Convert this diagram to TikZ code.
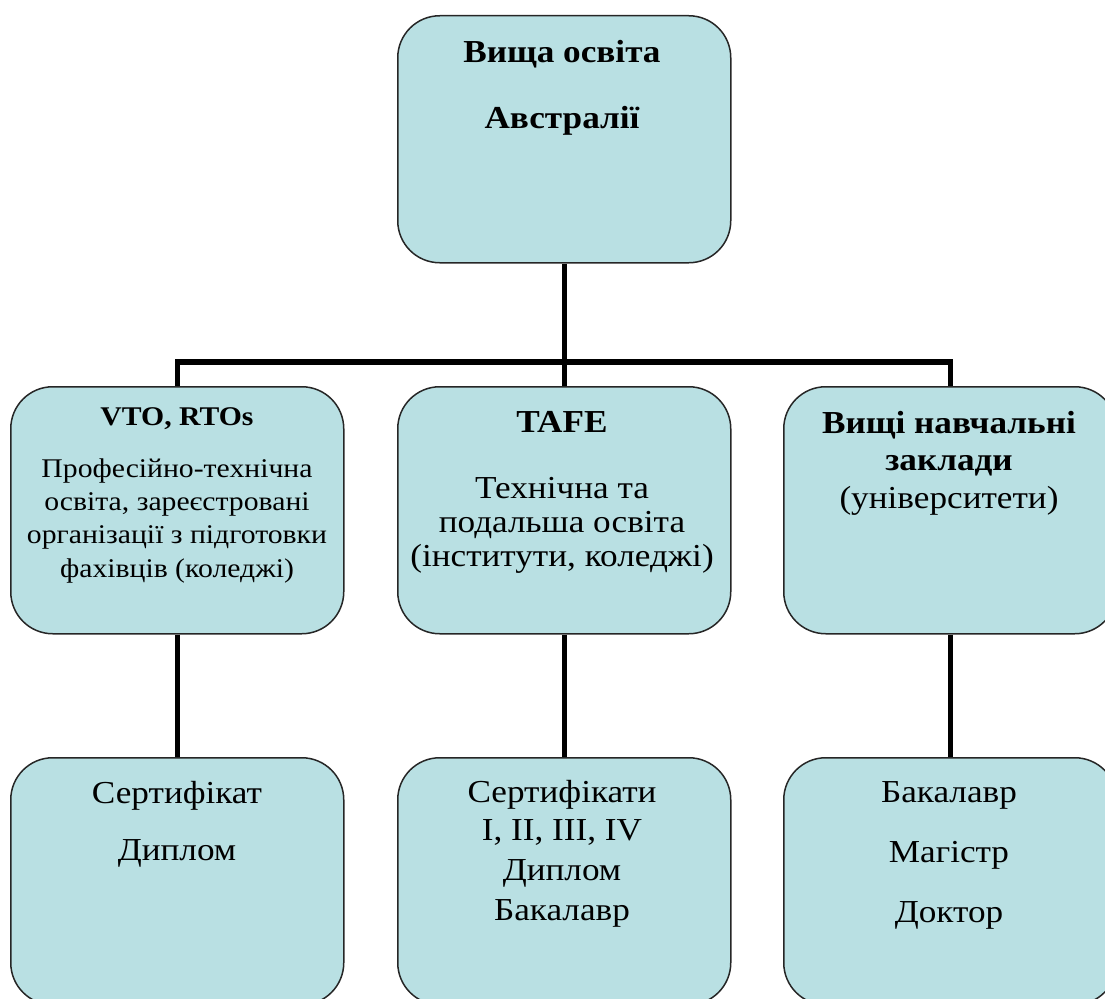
\documentclass[tikz,border=0pt]{standalone}
\usepackage{fontspec}
\setmainfont[FakeStretch=1.1]{Liberation Serif}
\begin{document}
\begin{tikzpicture}[x=1pt,y=-1pt,
  box/.style={draw=black!85,line width=1.5pt,fill=boxfill,rounded corners=42pt,
    minimum width=333pt,minimum height=247pt,inner sep=0pt,anchor=north west},
  conn/.style={line width=5.5pt,black},
  txt/.style={anchor=base,inner sep=0pt},
  big/.style={font=\fontsize{32}{36}\selectfont},
  bigb/.style={font=\fontsize{32}{36}\selectfont\bfseries},
  mid/.style={font=\fontsize{27}{32}\selectfont},
  midb/.style={font=\fontsize{27}{32}\selectfont\bfseries}]
\definecolor{boxfill}{RGB}{185,224,227}
\useasboundingbox (0,0) rectangle (1105,998);

% boxes
\node[box] (top) at (397,15) {};
\node[box] (m1) at (10,386) {};
\node[box] (m2) at (397,386) {};
\node[box] (m3) at (783,386) {};
\node[box] (b1) at (10,757) {};
\node[box] (b2) at (397,757) {};
\node[box] (b3) at (783,757) {};

% connectors
\coordinate (hub) at (562,362);
\draw[conn] (top.south) -- (m2.north);
\draw[conn] (m1.north) -- (m1.north |- hub) -- (m3.north |- hub) -- (m3.north);
\draw[conn] (m1.south) -- (b1.north);
\draw[conn] (m2.south) -- (b2.north);
\draw[conn] (m3.south) -- (b3.north);

% top box
\node[txt,bigb] (t1) at (562,63) {Вища освіта};
\node[txt,bigb] (t2) at (562,128) {Австралії};

% middle left
\node[txt,midb] (l1) at (177,425) {VTO, RTOs};
\node[txt,mid] (l2) at (177,477) {Професійно-технічна};
\node[txt,mid] (l3) at (177,510) {освіта, зареєстровані};
\node[txt,mid] (l4) at (177,543) {організації з підготовки};
\node[txt,mid] (l5) at (177,577) {фахівців (коледжі)};

% middle centre
\node[txt,bigb] (c1) at (562,432) {TAFE};
\node[txt,big] (c2) at (562,498) {Технічна та};
\node[txt,big] (c3) at (562,532) {подальша освіта};
\node[txt,big] (c4) at (562,566) {(інститути, коледжі)};

% middle right
\node[txt,bigb] (r1) at (949,433) {Вищі навчальні};
\node[txt,bigb] (r2) at (949,470) {заклади};
\node[txt,big] (r3) at (949,508) {(університети)};

% bottom left
\node[txt,big] (d1) at (177,803) {Сертифікат};
\node[txt,big] (d2) at (177,860) {Диплом};

% bottom centre
\node[txt,big] (e1) at (562,802) {Сертифікати};
\node[txt,big] (e2) at (562,840) {I, II, III, IV};
\node[txt,big] (e3) at (562,880) {Диплом};
\node[txt,big] (e4) at (562,920) {Бакалавр};

% bottom right
\node[txt,big] (f1) at (949,802) {Бакалавр};
\node[txt,big] (f2) at (949,862) {Магістр};
\node[txt,big] (f3) at (949,922) {Доктор};
\end{tikzpicture}
\end{document}
